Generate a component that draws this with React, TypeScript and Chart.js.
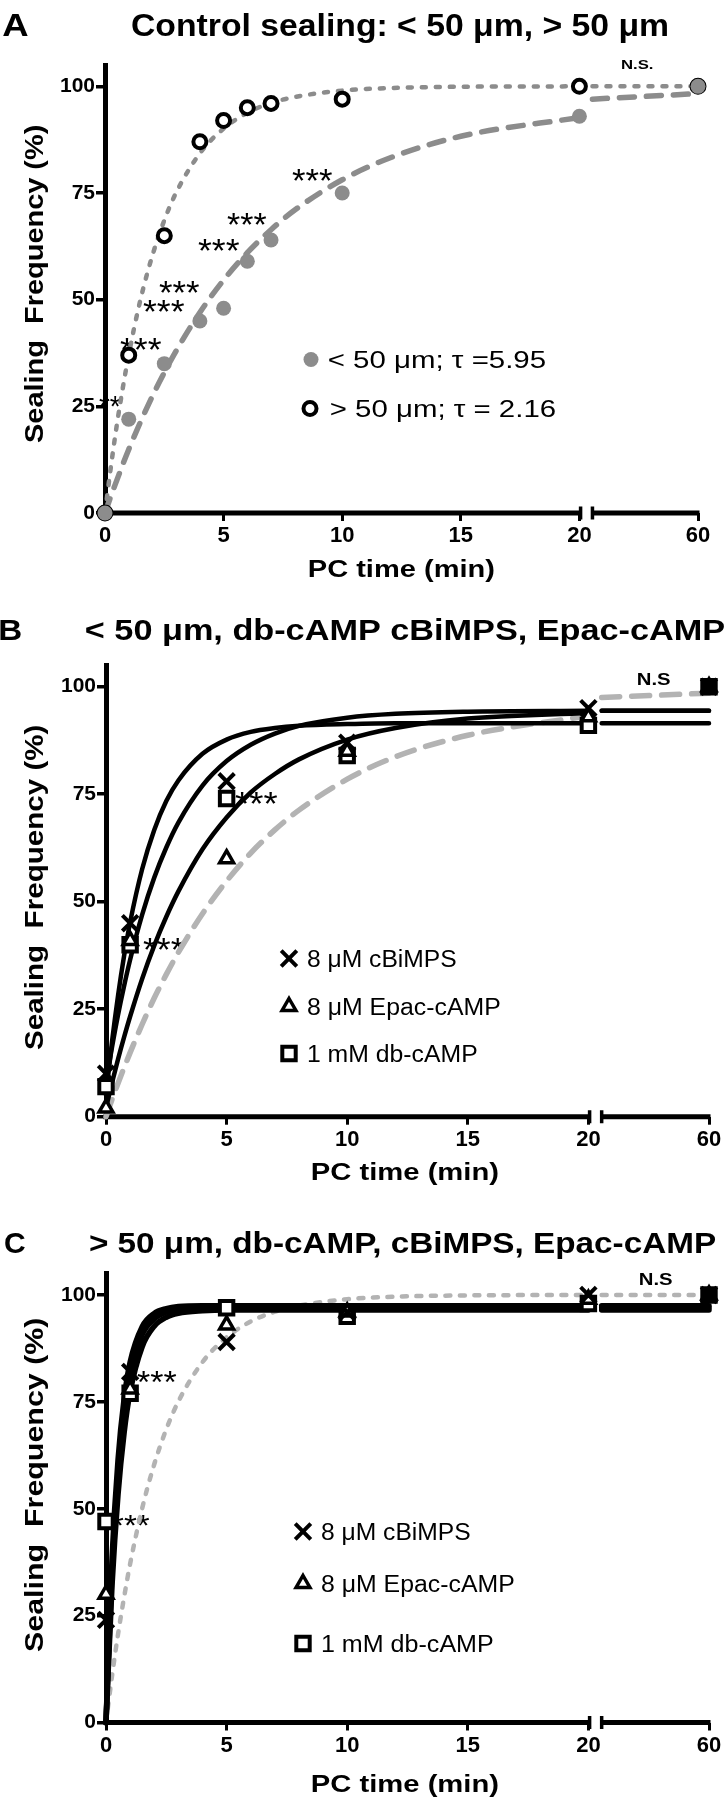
import React, { useEffect, useRef } from 'react';
import { Chart, registerables } from 'chart.js';

Chart.register(...registerables);

const FONT = '"Liberation Sans", Arial, Helvetica, sans-serif';

// ---------------- Panel A data ----------------
const A_TIMES = [0, 1, 2.5, 4, 5, 6, 7, 10, 20, 60];
const A_UNDER50 = [0, 22, 35, 45, 48, 59, 64, 75, 93, 100];
const A_OVER50 = [0, 37, 65, 87, 92, 95, 96, 97, 100, 100];

// ---------------- Panels B / C data ----------------
const BC_TIMES = [0, 1, 5, 10, 20, 60];
const B_CBIMPS = [10, 45, 78, 87, 95, 100];
const B_EPAC = [2, 41, 60, 85, 93, 100];
const B_DBCAMP = [7, 40, 74, 84, 91, 100];
const C_CBIMPS = [24, 82, 89, 96, 100, 100];
const C_EPAC = [30, 78, 93, 96, 99, 100];
const C_DBCAMP = [47, 77, 97, 95, 98, 100];

// ---------------- fitted curves ----------------
const FIT_TIMES = [0, 0.25, 0.5, 0.75, 1, 1.5, 2, 2.5, 3, 4, 5, 6, 7, 8, 10, 12, 15, 20];
const FIT_TIMES_LATE = [30, 60];
const A_UNDER50_FIT = [0, 4.0, 7.7, 11.4, 14.9, 21.4, 27.4, 32.9, 38.0, 47.0, 54.6, 61.0, 66.4, 71.0, 78.1, 83.2, 88.3, 92.7];
const A_UNDER50_FIT_LATE = [97, 98.3];
const A_OVER50_FIT = [0, 10.9, 20.7, 29.3, 37.1, 50.1, 60.4, 68.6, 75.1, 84.3, 90.1, 93.8, 96.1, 97.5, 99.0, 99.6, 99.9, 100];
const A_OVER50_FIT_LATE = [100, 100];
const B_CONTROL_FIT = [0, 4.0, 7.8, 11.4, 14.9, 21.5, 27.6, 33.1, 38.2, 47.2, 54.8, 61.3, 66.7, 71.3, 78.5, 83.7, 88.7, 93.2];
const B_CONTROL_FIT_LATE = [97.5, 98.5];
const B_FIT_FAST = [5, 17.5, 28.2, 37.4, 45.2, 57.6, 66.7, 73.4, 78.2, 84.4, 87.7, 89.5, 90.4, 90.9, 91.3, 91.5, 91.5, 91.5];
const B_FIT_FAST_LATE = [91.5, 91.5];
const B_FIT_MID = [8, 16.2, 23.7, 30.4, 36.5, 47.0, 55.6, 62.6, 68.4, 77.0, 82.7, 86.5, 89.1, 90.9, 92.8, 93.7, 94.2, 94.4];
const B_FIT_MID_LATE = [94.4, 94.4];
const B_FIT_SLOW = [2, 7.9, 13.4, 18.5, 23.3, 32.1, 39.8, 46.5, 52.4, 62.2, 69.6, 75.4, 79.7, 83.1, 87.7, 90.4, 92.6, 93.9];
const B_FIT_SLOW_LATE = [94.4, 94.4];
const C_CONTROL_FIT = [0, 10.9, 20.7, 29.3, 37.1, 50.1, 60.4, 68.6, 75.1, 84.3, 90.1, 93.8, 96.1, 97.5, 99.0, 99.6, 99.9, 100];
const C_CONTROL_FIT_LATE = [100, 100];
const C_FIT_1 = [0, 38.4, 61.6, 75.7, 84.3, 92.6, 95.7, 96.8, 97.3, 97.5, 97.5, 97.5, 97.5, 97.5, 97.5, 97.5, 97.5, 97.5];
const C_FIT_1_LATE = [97.5, 97.5];
const C_FIT_2 = [0, 35.4, 57.9, 72.2, 81.3, 90.7, 94.4, 96.0, 96.6, 96.9, 97, 97, 97, 97, 97, 97, 97, 97];
const C_FIT_2_LATE = [97, 97];
const C_FIT_3 = [0, 32.0, 53.4, 67.7, 77.3, 87.9, 92.7, 94.8, 95.7, 96.3, 96.5, 96.5, 96.5, 96.5, 96.5, 96.5, 96.5, 96.5];
const C_FIT_3_LATE = [96.5, 96.5];

// ---------------- ticks ----------------
const X_TICKS = [0, 5, 10, 15, 20, 60];
const Y_TICKS = [0, 25, 50, 75, 100];

// broken x axis: 0-20 linear, then a short segment ending at 60
const SEG1_END = 20;
const SEG2_REAL = [30, 60];
const SEG2_DISP = [20.55, 25];
const BREAK_LEFT = 20.05;
const toDisp = (t: number) =>
  t <= SEG1_END
    ? t
    : SEG2_DISP[0] + ((t - SEG2_REAL[0]) / (SEG2_REAL[1] - SEG2_REAL[0])) * (SEG2_DISP[1] - SEG2_DISP[0]);

const GRAY_A = '#8c8c8c';
const GRAY_LIGHT = '#b3b3b3';

function markerDs(times: number[], values: number[], s: any) {
  return {
    data: times.map((t, i) => ({ x: toDisp(t), y: values[i] })),
    showLine: false,
    pointStyle: s.shape,
    pointRadius: s.r,
    pointHoverRadius: s.r,
    pointBorderWidth: s.bw,
    pointBorderColor: s.stroke,
    pointBackgroundColor: s.fill,
    order: s.order,
    clip: false,
  };
}

function curveDs(early: number[], late: number[], s: any) {
  return {
    data: [
      ...FIT_TIMES.map((t, i) => ({ x: toDisp(t), y: early[i] })),
      { x: (BREAK_LEFT + SEG2_DISP[0]) / 2, y: null },
      ...FIT_TIMES_LATE.map((t, i) => ({ x: toDisp(t), y: late[i] })),
    ],
    borderColor: s.color,
    borderWidth: s.width,
    borderDash: s.dash,
    borderCapStyle: 'round',
    borderJoinStyle: 'round',
    pointRadius: 0,
    pointHoverRadius: 0,
    cubicInterpolationMode: 'monotone',
    spanGaps: false,
    fill: false,
    order: s.order,
    clip: false,
  };
}

const fillAt60 = (times: number[]) => times.map((t) => (t === 60 ? '#000' : '#fff'));

// ---------------- drawing helpers ----------------
function fitWidth(ctx: CanvasRenderingContext2D, text: string, font: string, x0: number, x1: number, baseline: number) {
  ctx.save();
  ctx.font = font;
  ctx.fillStyle = '#000';
  ctx.textAlign = 'left';
  ctx.textBaseline = 'alphabetic';
  const m = ctx.measureText(text);
  const inkW = m.actualBoundingBoxLeft + m.actualBoundingBoxRight;
  ctx.translate(x0, baseline);
  ctx.scale((x1 - x0) / inkW, 1);
  ctx.fillText(text, m.actualBoundingBoxLeft, 0);
  ctx.restore();
}

function fitBox(ctx: CanvasRenderingContext2D, text: string, font: string, x0: number, x1: number, y0: number, y1: number) {
  ctx.save();
  ctx.font = font;
  ctx.fillStyle = '#000';
  ctx.textAlign = 'left';
  ctx.textBaseline = 'alphabetic';
  const m = ctx.measureText(text);
  const inkW = m.actualBoundingBoxLeft + m.actualBoundingBoxRight;
  const inkH = m.actualBoundingBoxAscent + m.actualBoundingBoxDescent;
  ctx.translate(x0, y0);
  ctx.scale((x1 - x0) / inkW, (y1 - y0) / inkH);
  ctx.fillText(text, m.actualBoundingBoxLeft, m.actualBoundingBoxAscent);
  ctx.restore();
}

function drawMarker(ctx: CanvasRenderingContext2D, kind: string, x: number, y: number) {
  ctx.save();
  ctx.strokeStyle = '#000';
  ctx.fillStyle = '#fff';
  ctx.beginPath();
  if (kind === 'grayDot') {
    ctx.fillStyle = GRAY_A;
    ctx.arc(x, y, 7.5, 0, Math.PI * 2);
    ctx.fill();
  } else if (kind === 'openCircle') {
    ctx.lineWidth = 4;
    ctx.arc(x, y, 6.5, 0, Math.PI * 2);
    ctx.fill();
    ctx.stroke();
  } else if (kind === 'cross') {
    const h = 7.8;
    ctx.lineWidth = 4;
    ctx.moveTo(x - h, y - h);
    ctx.lineTo(x + h, y + h);
    ctx.moveTo(x - h, y + h);
    ctx.lineTo(x + h, y - h);
    ctx.stroke();
  } else if (kind === 'triangle') {
    const r = 8;
    ctx.lineWidth = 3.5;
    ctx.moveTo(x, y - r);
    ctx.lineTo(x + r * 0.866, y + r * 0.5);
    ctx.lineTo(x - r * 0.866, y + r * 0.5);
    ctx.closePath();
    ctx.fill();
    ctx.stroke();
  } else if (kind === 'square') {
    const h = 6.7;
    ctx.lineWidth = 4;
    ctx.rect(x - h, y - h, 2 * h, 2 * h);
    ctx.fill();
    ctx.stroke();
  }
  ctx.restore();
}

// ---------------- panel specs ----------------
const PANEL_A = {
  area: { left: 105, right: 698, top: 65, bottom: 513 },
  datasets: [
    markerDs(A_TIMES, A_UNDER50, { shape: 'circle', r: 7.5, bw: 0, stroke: GRAY_A, fill: GRAY_A, order: 1 }),
    markerDs(A_TIMES, A_OVER50, { shape: 'circle', r: 6.5, bw: 4, stroke: '#000', fill: '#fff', order: 2 }),
    curveDs(A_OVER50_FIT, A_OVER50_FIT_LATE, { color: GRAY_A, width: 4.5, dash: [4, 10], order: 11 }),
    curveDs(A_UNDER50_FIT, A_UNDER50_FIT_LATE, { color: GRAY_A, width: 5.5, dash: [15, 12], order: 10 }),
  ],
  letter: { text: 'A', x0: 2.3, x1: 27.8, baseline: 36, size: 31.5 },
  title: { text: 'Control sealing: < 50 \u03bcm, > 50 \u03bcm', x0: 132, x1: 668, baseline: 36, size: 31.5 },
  yTitle: { baselineX: 43, y0: 125, y1: 443, size: 25 },
  xTitle: { x0: 309, x1: 494, baseline: 577, size: 23.5 },
  legendSize: 23.5,
  legend: [
    { kind: 'grayDot', mx: 311, my: 359.5, text: '< 50 \u03bcm; \u03c4 =5.95', x0: 329, x1: 546, baseline: 368 },
    { kind: 'openCircle', mx: 310, my: 408.5, text: '> 50 \u03bcm; \u03c4 = 2.16', x0: 331, x1: 556, baseline: 417 },
  ],
  stars: [
    { text: '***', x0: 292, x1: 333, y0: 170, y1: 182 },
    { text: '***', x0: 227, x1: 267, y0: 214, y1: 226 },
    { text: '***', x0: 198, x1: 240, y0: 240, y1: 252 },
    { text: '***', x0: 159, x1: 200, y0: 282, y1: 294 },
    { text: '***', x0: 143, x1: 185, y0: 301, y1: 313 },
    { text: '***', x0: 120, x1: 162, y0: 339, y1: 351 },
    { text: '**', x0: 99, x1: 121, y0: 396, y1: 407 },
  ],
  ns: { text: 'N.S.', x0: 622, x1: 653, y0: 58.5, y1: 68.5 },
};

const PANEL_B = {
  area: { left: 106, right: 709, top: 65.2, bottom: 516.7 },
  datasets: [
    markerDs(BC_TIMES, B_CBIMPS, { shape: 'crossRot', r: 11, bw: 4, stroke: '#000', fill: '#000', order: 1 }),
    markerDs(BC_TIMES, B_EPAC, { shape: 'triangle', r: 8, bw: 3.5, stroke: '#000', fill: fillAt60(BC_TIMES), order: 2 }),
    markerDs(BC_TIMES, B_DBCAMP, { shape: 'rect', r: 9.5, bw: 4, stroke: '#000', fill: fillAt60(BC_TIMES), order: 3 }),
    curveDs(B_FIT_FAST, B_FIT_FAST_LATE, { color: '#000', width: 4.5, dash: [], order: 10 }),
    curveDs(B_FIT_MID, B_FIT_MID_LATE, { color: '#000', width: 4.5, dash: [], order: 11 }),
    curveDs(B_FIT_SLOW, B_FIT_SLOW_LATE, { color: '#000', width: 4.5, dash: [], order: 12 }),
    curveDs(B_CONTROL_FIT, B_CONTROL_FIT_LATE, { color: GRAY_LIGHT, width: 5.5, dash: [18, 12], order: 13 }),
  ],
  letter: { text: 'B', x0: 0.5, x1: 21.5, baseline: 40, size: 30 },
  title: { text: '< 50 \u03bcm, db-cAMP cBiMPS, Epac-cAMP', x0: 86, x1: 724, baseline: 40, size: 30 },
  yTitle: { baselineX: 43, y0: 125, y1: 450, size: 25 },
  xTitle: { x0: 312, x1: 498, baseline: 580, size: 23.5 },
  legendSize: 23.5,
  legend: [
    { kind: 'cross', mx: 289, my: 358.5, text: '8 \u03bcM cBiMPS', x0: 308, x1: 456, baseline: 367 },
    { kind: 'triangle', mx: 289, my: 406.5, text: '8 \u03bcM Epac-cAMP', x0: 308, x1: 500, baseline: 415 },
    { kind: 'square', mx: 289, my: 453.5, text: '1 mM db-cAMP', x0: 308, x1: 477, baseline: 462 },
  ],
  stars: [
    { text: '***', x0: 235, x1: 278, y0: 193, y1: 205 },
    { text: '***', x0: 143, x1: 185, y0: 339, y1: 351 },
  ],
  ns: { text: 'N.S', x0: 638, x1: 671, y0: 72, y1: 85 },
};

const PANEL_C = {
  area: { left: 106, right: 709, top: 73.6, bottom: 522.5 },
  datasets: [
    markerDs(BC_TIMES, C_CBIMPS, { shape: 'crossRot', r: 11, bw: 4, stroke: '#000', fill: '#000', order: 1 }),
    markerDs(BC_TIMES, C_EPAC, { shape: 'triangle', r: 8, bw: 3.5, stroke: '#000', fill: fillAt60(BC_TIMES), order: 2 }),
    markerDs(BC_TIMES, C_DBCAMP, { shape: 'rect', r: 9.5, bw: 4, stroke: '#000', fill: fillAt60(BC_TIMES), order: 3 }),
    curveDs(C_FIT_1, C_FIT_1_LATE, { color: '#000', width: 5.5, dash: [], order: 10 }),
    curveDs(C_FIT_2, C_FIT_2_LATE, { color: '#000', width: 5.5, dash: [], order: 11 }),
    curveDs(C_FIT_3, C_FIT_3_LATE, { color: '#000', width: 5.5, dash: [], order: 12 }),
    curveDs(C_CONTROL_FIT, C_CONTROL_FIT_LATE, { color: GRAY_LIGHT, width: 4.5, dash: [5, 9.5], order: 13 }),
  ],
  letter: { text: 'C', x0: 5, x1: 25, baseline: 53.3, size: 30 },
  title: { text: '> 50 \u03bcm, db-cAMP, cBiMPS, Epac-cAMP', x0: 90, x1: 715, baseline: 53.3, size: 30 },
  yTitle: { baselineX: 43, y0: 118, y1: 452, size: 25 },
  xTitle: { x0: 312, x1: 498, baseline: 592, size: 23.5 },
  legendSize: 23.5,
  legend: [
    { kind: 'cross', mx: 303, my: 331.5, text: '8 \u03bcM cBiMPS', x0: 322, x1: 470, baseline: 340 },
    { kind: 'triangle', mx: 303, my: 383.5, text: '8 \u03bcM Epac-cAMP', x0: 322, x1: 514, baseline: 392 },
    { kind: 'square', mx: 303, my: 443.5, text: '1 mM db-cAMP', x0: 322, x1: 493, baseline: 452 },
  ],
  stars: [
    { text: '***', x0: 137, x1: 177, y0: 172, y1: 183.5 },
    { text: '***', x0: 111, x1: 150, y0: 315, y1: 326 },
  ],
  ns: { text: 'N.S', x0: 640, x1: 673, y0: 72, y1: 85 },
};

const CANVAS_W = 726;
const CANVAS_H = 600;
const X_AXIS_H = 60;

function buildConfig(p: any) {
  const decor = {
    id: 'panelDecor',
    beforeDatasetsDraw(chart: any) {
      const { ctx, chartArea } = chart;
      const xs = chart.scales.x;
      const y = chartArea.bottom;
      ctx.save();
      ctx.strokeStyle = '#000';
      ctx.lineWidth = 5;
      ctx.lineCap = 'butt';
      ctx.beginPath();
      ctx.moveTo(xs.getPixelForValue(0) - 2.5, y);
      ctx.lineTo(xs.getPixelForValue(BREAK_LEFT), y);
      ctx.moveTo(xs.getPixelForValue(SEG2_DISP[0]), y);
      ctx.lineTo(xs.getPixelForValue(SEG2_DISP[1]) + 1.5, y);
      ctx.stroke();
      ctx.lineWidth = 3.5;
      ctx.beginPath();
      for (const v of [BREAK_LEFT, SEG2_DISP[0]]) {
        const px = xs.getPixelForValue(v);
        ctx.moveTo(px, y - 6.5);
        ctx.lineTo(px, y + 6.5);
      }
      ctx.stroke();
      ctx.restore();
      for (const s of p.stars) {
        fitBox(ctx, s.text, `30px ${FONT}`, s.x0, s.x1, s.y0, s.y1);
      }
    },
    afterDraw(chart: any) {
      const ctx = chart.ctx as CanvasRenderingContext2D;
      fitWidth(ctx, p.letter.text, `bold ${p.letter.size}px ${FONT}`, p.letter.x0, p.letter.x1, p.letter.baseline);
      fitWidth(ctx, p.title.text, `bold ${p.title.size}px ${FONT}`, p.title.x0, p.title.x1, p.title.baseline);
      // y axis title
      ctx.save();
      ctx.translate(p.yTitle.baselineX, (p.yTitle.y0 + p.yTitle.y1) / 2);
      ctx.rotate(-Math.PI / 2);
      const half = (p.yTitle.y1 - p.yTitle.y0) / 2;
      fitWidth(ctx, 'Sealing  Frequency (%)', `bold ${p.yTitle.size}px ${FONT}`, -half, half, 0);
      ctx.restore();
      fitWidth(ctx, 'PC time (min)', `bold ${p.xTitle.size}px ${FONT}`, p.xTitle.x0, p.xTitle.x1, p.xTitle.baseline);
      for (const l of p.legend) {
        drawMarker(ctx, l.kind, l.mx, l.my);
        fitWidth(ctx, l.text, `${p.legendSize}px ${FONT}`, l.x0, l.x1, l.baseline);
      }
      fitBox(ctx, p.ns.text, `bold 16px ${FONT}`, p.ns.x0, p.ns.x1, p.ns.y0, p.ns.y1);
    },
  };

  return {
    type: 'line',
    data: { datasets: p.datasets },
    options: {
      responsive: false,
      maintainAspectRatio: false,
      devicePixelRatio: 1,
      animation: false,
      events: [],
      layout: {
        autoPadding: false,
        padding: {
          left: 0,
          right: CANVAS_W - p.area.right,
          top: p.area.top,
          bottom: CANVAS_H - p.area.bottom - X_AXIS_H,
        },
      },
      plugins: {
        legend: { display: false },
        tooltip: { enabled: false },
        title: { display: false },
      },
      scales: {
        x: {
          type: 'linear',
          min: 0,
          max: SEG2_DISP[1],
          border: { display: false },
          grid: {
            display: true,
            drawOnChartArea: false,
            drawTicks: true,
            tickLength: 8,
            lineWidth: 3,
            color: '#000',
          },
          ticks: {
            autoSkip: false,
            maxRotation: 0,
            minRotation: 0,
            padding: 2,
            color: '#000',
            font: { family: FONT, size: 22, weight: 'bold' },
            callback: (value: number) => {
              const i = X_TICKS.findIndex((t) => Math.abs(toDisp(t) - value) < 1e-6);
              return i >= 0 ? String(X_TICKS[i]) : '';
            },
          },
          afterBuildTicks: (scale: any) => {
            scale.ticks = X_TICKS.map((t) => ({ value: toDisp(t) }));
          },
          afterFit: (scale: any) => {
            scale.height = X_AXIS_H;
          },
        },
        y: {
          type: 'linear',
          min: 0,
          max: 105,
          border: { display: true, width: 5, color: '#000' },
          grid: {
            display: true,
            drawOnChartArea: false,
            drawTicks: true,
            tickLength: 9,
            lineWidth: 3.5,
            color: '#000',
          },
          ticks: {
            padding: 1,
            color: '#000',
            font: { family: FONT, size: 21, weight: 'bold' },
          },
          afterBuildTicks: (scale: any) => {
            scale.ticks = Y_TICKS.map((v) => ({ value: v }));
          },
          afterFit: (scale: any) => {
            scale.width = p.area.left;
          },
        },
      },
    },
    plugins: [decor],
  };
}

function ChartPanel({ spec, top }: { spec: any; top: number }) {
  const ref = useRef<HTMLCanvasElement | null>(null);
  useEffect(() => {
    if (!ref.current) return;
    const chart = new Chart(ref.current, buildConfig(spec) as any);
    return () => chart.destroy();
  }, [spec]);
  return (
    <canvas
      ref={ref}
      width={CANVAS_W}
      height={CANVAS_H}
      style={{ position: 'absolute', left: 0, top, width: CANVAS_W, height: CANVAS_H, display: 'block' }}
    />
  );
}

export default function App() {
  return (
    <div style={{ position: 'absolute', left: 0, top: 0, width: 726, height: 1800, background: '#fff' }}>
      <ChartPanel spec={PANEL_A} top={0} />
      <ChartPanel spec={PANEL_B} top={600} />
      <ChartPanel spec={PANEL_C} top={1200} />
    </div>
  );
}
